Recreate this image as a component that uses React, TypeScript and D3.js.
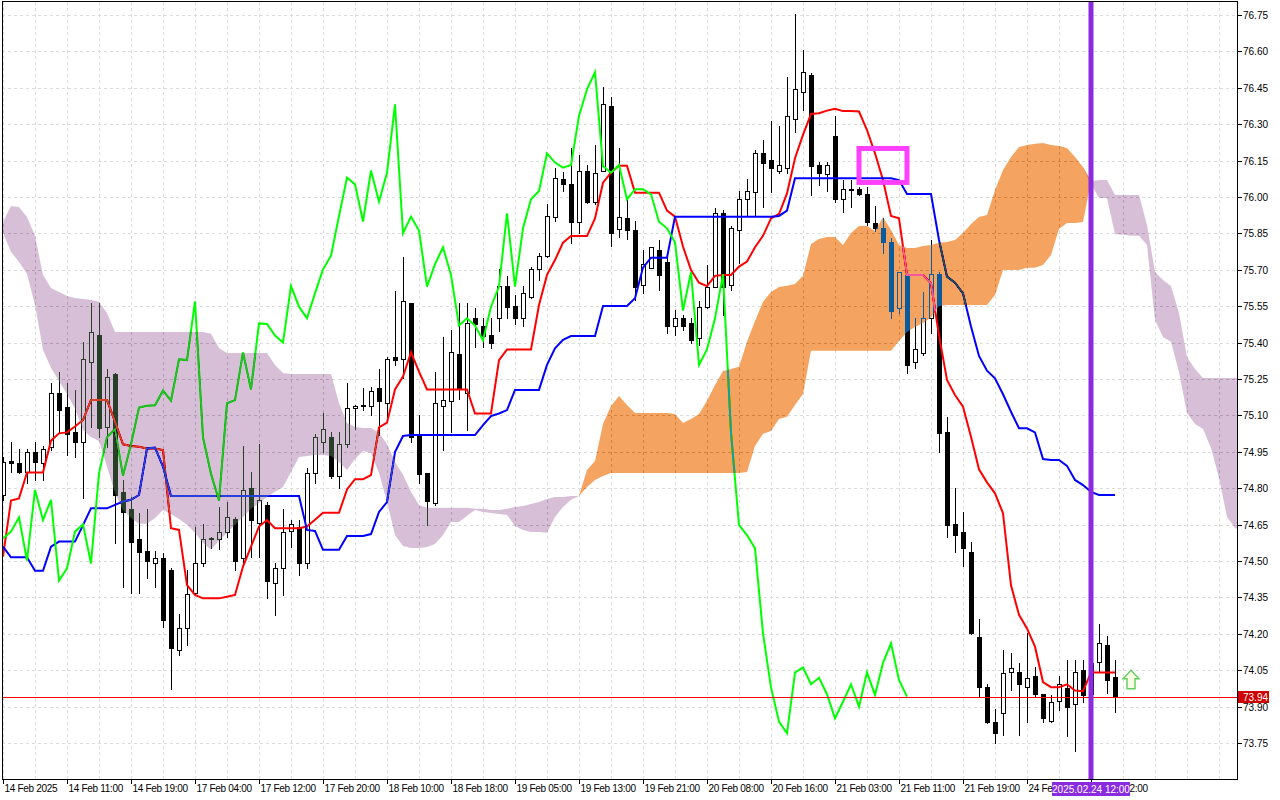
import React, { useEffect, useRef } from 'react';
import * as d3 from 'd3';

// H1 candles, 140 bars
const barOpen = [
  74.772, 74.912, 74.905, 74.868, 74.951, 74.903, 74.971, 75.191, 75.136, 75.030,
  74.992, 75.322, 75.431, 75.051, 75.269, 74.783, 74.713, 74.591, 74.541, 74.490,
  74.511, 74.463, 74.133, 74.223, 74.367, 74.490, 74.591, 74.591, 74.621, 74.673,
  74.511, 74.800, 74.658, 74.731, 74.411, 74.470, 74.625, 74.642, 74.490, 74.861,
  74.992, 75.010, 74.852, 74.981, 75.132, 75.140, 75.140, 75.212, 75.150, 75.339,
  75.331, 75.562, 75.017, 74.861, 74.740, 75.140, 75.161, 75.353, 75.191, 75.500,
  75.470, 75.431, 75.500, 75.633, 75.551, 75.500, 75.589, 75.702, 75.758, 75.918,
  76.074, 76.054, 75.899, 76.109, 75.981, 76.109, 76.375, 75.868, 75.912, 75.864,
  75.638, 75.709, 75.782, 75.731, 75.470, 75.500, 75.479, 75.420, 75.548, 75.631,
  75.933, 75.638, 75.864, 75.991, 76.022, 76.180, 76.153, 76.109, 76.121, 76.320,
  76.431, 76.503, 76.132, 76.093, 76.251, 75.990, 76.030, 76.033, 76.012, 75.894,
  75.871, 75.816, 75.541, 75.679, 75.321, 75.359, 75.500, 75.681, 75.030, 74.651,
  74.621, 74.539, 74.188, 73.979, 73.838, 73.872, 74.041, 74.041, 73.979, 74.028,
  73.951, 73.842, 73.923, 73.978, 73.910, 74.051, 73.950, 74.083, 74.154, 74.024,
];
const barHigh = [
  74.930, 74.992, 74.960, 74.960, 74.992, 74.974, 75.232, 75.280, 75.232, 75.205,
  75.404, 75.565, 75.565, 75.290, 75.275, 74.834, 74.765, 74.696, 74.713, 74.543,
  74.532, 74.470, 74.280, 74.463, 74.642, 74.653, 74.600, 74.724, 74.745, 74.683,
  74.974, 74.868, 74.982, 74.745, 74.490, 74.713, 74.669, 74.669, 74.882, 75.023,
  75.108, 75.030, 75.030, 75.232, 75.143, 75.212, 75.218, 75.290, 75.339, 75.613,
  75.751, 75.562, 75.102, 74.861, 75.280, 75.422, 75.452, 75.562, 75.562, 75.541,
  75.500, 75.500, 75.702, 75.674, 75.596, 75.633, 75.710, 75.768, 75.971, 76.120,
  76.102, 76.201, 76.173, 76.132, 76.214, 76.452, 76.411, 76.201, 75.995, 75.901,
  75.782, 75.795, 75.823, 75.747, 75.535, 75.514, 75.500, 75.570, 75.720, 75.954,
  75.947, 75.880, 76.026, 76.074, 76.194, 76.235, 76.313, 76.293, 76.493, 76.754,
  76.606, 76.510, 76.146, 76.146, 76.334, 76.070, 76.070, 76.040, 76.043, 75.963,
  75.912, 75.830, 75.690, 75.685, 75.500, 75.610, 75.823, 75.690, 75.095, 74.800,
  74.701, 74.580, 74.260, 73.993, 73.889, 74.133, 74.120, 74.078, 74.202, 74.065,
  73.951, 73.948, 74.026, 74.092, 74.092, 74.092, 74.100, 74.241, 74.191, 74.092,
];
const barLow = [
  74.750, 74.868, 74.861, 74.820, 74.834, 74.834, 74.958, 75.033, 74.937, 74.930,
  74.758, 75.054, 75.012, 74.971, 74.573, 74.394, 74.367, 74.367, 74.431, 74.392,
  74.230, 73.971, 74.113, 74.154, 74.360, 74.479, 74.552, 74.548, 74.600, 74.463,
  74.484, 74.518, 74.518, 74.346, 74.278, 74.360, 74.559, 74.442, 74.470, 74.820,
  74.951, 74.841, 74.800, 74.971, 75.043, 75.122, 75.102, 75.019, 75.081, 75.308,
  75.253, 74.992, 74.820, 74.648, 74.731, 74.957, 75.033, 75.166, 75.040, 75.383,
  75.380, 75.376, 75.449, 75.500, 75.477, 75.470, 75.582, 75.658, 75.751, 75.900,
  76.025, 75.809, 75.850, 75.974, 75.971, 76.109, 75.798, 75.834, 75.826, 75.576,
  75.603, 75.706, 75.617, 75.441, 75.432, 75.452, 75.400, 75.390, 75.541, 75.631,
  75.514, 75.617, 75.727, 75.926, 75.926, 75.960, 76.022, 76.100, 76.100, 76.269,
  76.359, 76.008, 76.049, 76.026, 75.981, 75.940, 75.960, 76.008, 75.885, 75.861,
  75.771, 75.500, 75.521, 75.273, 75.294, 75.349, 75.438, 74.951, 74.600, 74.539,
  74.479, 74.200, 73.941, 73.831, 73.749, 73.783, 73.968, 73.783, 73.838, 73.941,
  73.838, 73.838, 73.886, 73.780, 73.719, 73.921, 73.930, 74.044, 73.958, 73.879,
];
const barClose = [
  74.909, 74.903, 74.868, 74.951, 74.909, 74.960, 75.191, 75.122, 75.023, 74.992,
  75.331, 75.442, 75.050, 75.260, 74.772, 74.701, 74.580, 74.539, 74.502, 74.511,
  74.257, 74.140, 74.223, 74.364, 74.490, 74.591, 74.593, 74.621, 74.680, 74.502,
  74.793, 74.669, 74.752, 74.419, 74.470, 74.621, 74.651, 74.490, 74.861, 75.010,
  75.044, 74.852, 74.981, 75.132, 75.140, 75.142, 75.202, 75.161, 75.331, 75.328,
  75.570, 75.010, 74.859, 74.749, 75.150, 75.163, 75.360, 75.207, 75.479, 75.477,
  75.429, 75.400, 75.633, 75.548, 75.500, 75.603, 75.702, 75.758, 75.922, 76.080,
  76.052, 75.899, 76.109, 75.981, 76.100, 76.382, 75.850, 75.919, 75.862, 75.631,
  75.723, 75.793, 75.679, 75.470, 75.500, 75.470, 75.410, 75.548, 75.631, 75.933,
  75.631, 75.871, 75.991, 76.025, 76.180, 76.142, 76.121, 76.132, 76.334, 76.444,
  76.514, 76.128, 76.100, 76.132, 75.990, 76.032, 76.032, 76.011, 75.898, 75.871,
  75.813, 75.532, 75.690, 75.308, 75.372, 75.500, 75.681, 75.029, 74.648, 74.607,
  74.552, 74.202, 73.979, 73.838, 73.790, 74.040, 74.061, 73.992, 74.019, 73.951,
  73.852, 73.920, 73.992, 73.900, 74.041, 73.948, 74.080, 74.161, 74.010, 73.941,
];

// Ichimoku lines
const tenkan = [
  74.518, 74.749, 74.758, 74.865, 74.865, 74.865, 74.996, 75.026, 75.030, 75.054,
  75.081, 75.163, 75.163, 75.163, 75.074, 74.981, 74.974, 74.971, 74.964, 74.964,
  74.957, 74.635, 74.628, 74.401, 74.360, 74.346, 74.346, 74.346, 74.353, 74.360,
  74.477, 74.559, 74.642, 74.669, 74.635, 74.635, 74.635, 74.635, 74.642, 74.670,
  74.699, 74.699, 74.699, 74.795, 74.837, 74.837, 74.854, 75.051, 75.070, 75.207,
  75.260, 75.360, 75.280, 75.207, 75.207, 75.207, 75.207, 75.207, 75.207, 75.108,
  75.108, 75.108, 75.328, 75.372, 75.372, 75.372, 75.372, 75.555, 75.679, 75.740,
  75.812, 75.839, 75.839, 75.839, 75.912, 76.059, 76.100, 76.129, 76.129, 76.018,
  76.018, 76.018, 76.018, 75.944, 75.919, 75.796, 75.699, 75.647, 75.633, 75.675,
  75.679, 75.679, 75.713, 75.734, 75.793, 75.840, 75.912, 75.930, 76.015, 76.160,
  76.256, 76.342, 76.345, 76.356, 76.364, 76.354, 76.354, 76.352, 76.276, 76.180,
  76.070, 75.922, 75.912, 75.679, 75.679, 75.679, 75.644, 75.430, 75.246, 75.184,
  75.136, 75.012, 74.878, 74.824, 74.779, 74.697, 74.400, 74.278, 74.222, 74.147,
  74.001, 73.980, 73.980, 73.992, 73.966, 73.963, 74.041, 74.041, 74.041, 74.041,
];
const kijun = [
  74.559, 74.515, 74.515, 74.515, 74.460, 74.460, 74.559, 74.580, 74.580, 74.580,
  74.648, 74.717, 74.717, 74.717, 74.731, 74.745, 74.752, 74.772, 74.964, 74.967,
  74.889, 74.768, 74.768, 74.768, 74.768, 74.768, 74.768, 74.768, 74.768, 74.768,
  74.768, 74.768, 74.768, 74.768, 74.768, 74.768, 74.768, 74.768, 74.628, 74.624,
  74.546, 74.546, 74.546, 74.603, 74.603, 74.603, 74.611, 74.702, 74.743, 74.949,
  75.015, 75.019, 75.019, 75.019, 75.019, 75.019, 75.019, 75.019, 75.019, 75.019,
  75.060, 75.097, 75.108, 75.122, 75.205, 75.205, 75.205, 75.205, 75.308, 75.376,
  75.411, 75.427, 75.427, 75.427, 75.427, 75.551, 75.551, 75.551, 75.551, 75.583,
  75.709, 75.750, 75.750, 75.750, 75.919, 75.919, 75.919, 75.919, 75.919, 75.919,
  75.919, 75.919, 75.919, 75.919, 75.919, 75.919, 75.919, 75.922, 75.944, 76.077,
  76.077, 76.077, 76.077, 76.077, 76.077, 76.077, 76.077, 76.077, 76.077, 76.077,
  76.077, 76.077, 76.070, 76.012, 76.012, 76.012, 76.012, 75.823, 75.672, 75.647,
  75.603, 75.466, 75.345, 75.284, 75.253, 75.187, 75.115, 75.047, 75.047, 75.030,
  74.920, 74.916, 74.916, 74.892, 74.834, 74.813, 74.785, 74.772, 74.772, 74.772,
];
// Senkou spans as drawn (already shifted 26 bars forward), 156 bars
const senkouA = [
  75.852, 75.774, 75.732, 75.683, 75.555, 75.370, 75.296, 75.242, 75.188, 75.127,
  75.040, 75.011, 74.995, 74.888, 74.780, 74.710, 74.677, 74.653, 74.653, 74.677,
  74.710, 74.694, 74.673, 74.649, 74.616, 74.574, 74.546, 74.583, 74.616, 74.649,
  74.681, 74.715, 74.739, 74.764, 74.785, 74.805, 74.867, 74.929, 74.933, 74.937,
  74.937, 74.933, 74.908, 74.875, 74.920, 74.953, 74.945, 74.863, 74.743, 74.607,
  74.562, 74.554, 74.554, 74.558, 74.570, 74.607, 74.661, 74.661, 74.686, 74.710,
  74.702, 74.698, 74.694, 74.690, 74.644, 74.628, 74.620, 74.620, 74.616, 74.681,
  74.723, 74.752, 74.768, 74.875, 74.912, 75.065, 75.139, 75.180, 75.143, 75.110,
  75.110, 75.110, 75.110, 75.110, 75.106, 75.069, 75.085, 75.106, 75.160, 75.225,
  75.283, 75.291, 75.300, 75.403, 75.489, 75.568, 75.609, 75.629, 75.634, 75.642,
  75.675, 75.806, 75.827, 75.835, 75.835, 75.802, 75.852, 75.881, 75.881, 75.860,
  75.918, 75.864, 75.802, 75.790, 75.790, 75.798, 75.802, 75.811, 75.815, 75.823,
  75.852, 75.889, 75.918, 75.926, 76.029, 76.111, 76.165, 76.206, 76.214, 76.219,
  76.223, 76.214, 76.210, 76.202, 76.165, 76.124, 76.055, 75.996, 75.996, 75.848,
  75.844, 75.840, 75.840, 75.802, 75.493, 75.423, 75.403, 75.279, 75.110, 75.065,
  75.044, 74.966, 74.842, 74.681, 74.636, 74.624,
];
const senkouB = [
  75.897, 75.963, 75.959, 75.918, 75.840, 75.679, 75.625, 75.609, 75.592, 75.584,
  75.580, 75.576, 75.568, 75.522, 75.444, 75.444, 75.444, 75.444, 75.444, 75.444,
  75.444, 75.444, 75.444, 75.444, 75.444, 75.444, 75.436, 75.378, 75.357, 75.357,
  75.357, 75.357, 75.357, 75.357, 75.308, 75.275, 75.271, 75.271, 75.271, 75.271,
  75.271, 75.271, 75.151, 75.069, 75.052, 75.048, 75.048, 75.028, 74.982, 74.908,
  74.855, 74.785, 74.731, 74.719, 74.719, 74.719, 74.719, 74.719, 74.719, 74.715,
  74.715, 74.710, 74.710, 74.715, 74.723, 74.727, 74.735, 74.743, 74.756, 74.764,
  74.764, 74.768, 74.768, 74.805, 74.834, 74.850, 74.863, 74.863, 74.863, 74.863,
  74.863, 74.863, 74.863, 74.863, 74.863, 74.863, 74.863, 74.863, 74.863, 74.863,
  74.863, 74.863, 74.863, 74.867, 74.974, 75.024, 75.036, 75.085, 75.094, 75.143,
  75.188, 75.366, 75.366, 75.366, 75.366, 75.366, 75.366, 75.366, 75.366, 75.366,
  75.366, 75.366, 75.407, 75.444, 75.464, 75.481, 75.502, 75.551, 75.555, 75.555,
  75.555, 75.555, 75.555, 75.555, 75.596, 75.699, 75.699, 75.699, 75.708, 75.708,
  75.720, 75.761, 75.868, 75.893, 75.893, 75.897, 76.065, 76.070, 76.070, 76.008,
  76.008, 76.008, 76.008, 75.885, 75.691, 75.658, 75.633, 75.522, 75.341, 75.291,
  75.254, 75.254, 75.254, 75.254, 75.254, 75.254,
];

const timeLabels = [
  '14 Feb 2025', '14 Feb 11:00', '14 Feb 19:00', '17 Feb 04:00', '17 Feb 12:00', '17 Feb 20:00',
  '18 Feb 10:00', '18 Feb 18:00', '19 Feb 05:00', '19 Feb 13:00', '19 Feb 21:00', '20 Feb 08:00',
  '20 Feb 16:00', '21 Feb 03:00', '21 Feb 11:00', '21 Feb 19:00', '24 Feb 04:00', '24 Feb 12:00',
];
const priceTicks = [
  76.75, 76.60, 76.45, 76.30, 76.15, 76.00, 75.85, 75.70, 75.55, 75.40, 75.25,
  75.10, 74.95, 74.80, 74.65, 74.50, 74.35, 74.20, 74.05, 73.90, 73.75,
];

const bidPrice = 73.94;
const markerBar = 136;
const markerText = '2025.02.24 12:00';
const boxBars = [107, 113];
const boxPrices = [76.20, 76.06];
const arrowBar = 141;
const arrowPrice = 74.05;

const W = 1280;
const H = 800;
const plot = { left: 2, top: 2, right: 1237, bottom: 779 };
const FONT = "'Liberation Sans', Arial, sans-serif";

const App: React.FC = () => {
  const svgRef = useRef<SVGSVGElement>(null);

  useEffect(() => {
    if (!svgRef.current) return;
    const svg = d3.select(svgRef.current);
    svg.selectAll('*').remove();

    const x = d3.scaleLinear().domain([0, 154]).range([3, 1235]);
    const y = d3.scaleLinear().domain([73.75, 76.75]).range([743, 15]);

    svg.append('rect').attr('width', W).attr('height', H).attr('fill', '#ffffff');

    svg.append('defs').append('clipPath').attr('id', 'plot-clip')
      .append('rect')
      .attr('x', plot.left).attr('y', plot.top)
      .attr('width', plot.right - plot.left).attr('height', plot.bottom - plot.top);

    const g = svg.append('g').attr('clip-path', 'url(#plot-clip)');
    // white backdrop inside the clipped group so the cloud blending has something to work against
    g.append('rect')
      .attr('x', plot.left).attr('y', plot.top)
      .attr('width', plot.right - plot.left).attr('height', plot.bottom - plot.top)
      .attr('fill', '#ffffff');

    // Grid
    priceTicks.forEach(p => {
      const yy = Math.round(y(p)) + 0.5;
      g.append('line')
        .attr('x1', plot.left).attr('x2', plot.right)
        .attr('y1', yy).attr('y2', yy)
        .attr('stroke', '#dcdcdc').attr('stroke-dasharray', '3,3');
    });
    d3.range(0, 155, 4).forEach(i => {
      const xx = x(i) + 0.5;
      g.append('line')
        .attr('x1', xx).attr('x2', xx)
        .attr('y1', plot.top).attr('y2', plot.bottom)
        .attr('stroke', '#dcdcdc').attr('stroke-dasharray', '3,3');
    });

    // Candles
    const bars = d3.range(barClose.length);
    const candles = g.append('g').attr('shape-rendering', 'crispEdges');
    candles.selectAll('line.wick')
      .data(bars)
      .enter()
      .append('line')
      .attr('class', 'wick')
      .attr('x1', i => x(i) + 0.5).attr('x2', i => x(i) + 0.5)
      .attr('y1', i => Math.round(y(barHigh[i])))
      .attr('y2', i => Math.round(y(barLow[i])) + 1)
      .attr('stroke', '#000');
    candles.selectAll('rect.body')
      .data(bars)
      .enter()
      .append('rect')
      .attr('class', 'body')
      .attr('x', i => x(i) - 1.5)
      .attr('width', 4)
      .attr('y', i => Math.round(y(Math.max(barOpen[i], barClose[i]))) + 0.5)
      .attr('height', i => Math.max(1,
        Math.round(y(Math.min(barOpen[i], barClose[i]))) - Math.round(y(Math.max(barOpen[i], barClose[i])))))
      .attr('fill', i => (barClose[i] >= barOpen[i] ? '#ffffff' : '#000000'))
      .attr('stroke', '#000');

    // Ichimoku lines
    const line = d3.line<number>().x((_, i) => x(i)).y(d => y(d));
    g.append('path').datum(tenkan)
      .attr('fill', 'none').attr('stroke', '#ff0000').attr('stroke-width', 2).attr('d', line);
    g.append('path').datum(kijun)
      .attr('fill', 'none').attr('stroke', '#0000ff').attr('stroke-width', 2).attr('d', line);
    g.append('path').datum(barClose.slice(26))
      .attr('fill', 'none').attr('stroke', '#00ff00').attr('stroke-width', 2).attr('d', line);

    // Kumo, drawn as an inverted fill with difference blending (XOR look of the terminal)
    const spans = d3.range(senkouA.length);
    const bearArea = d3.area<number>()
      .x(i => x(i))
      .y0(i => y(senkouA[i]))
      .y1(i => y(Math.max(senkouA[i], senkouB[i])));
    const bullArea = d3.area<number>()
      .x(i => x(i))
      .y0(i => y(senkouB[i]))
      .y1(i => y(Math.max(senkouA[i], senkouB[i])));
    g.append('path').datum(spans)
      .attr('d', bearArea)
      .attr('fill', '#274027')
      .style('mix-blend-mode', 'difference');
    g.append('path').datum(spans)
      .attr('d', bullArea)
      .attr('fill', '#0b5b9f')
      .style('mix-blend-mode', 'difference');

    // Bid line
    const bidY = Math.round(y(bidPrice)) + 0.5;
    g.append('line')
      .attr('x1', plot.left).attr('x2', plot.right)
      .attr('y1', bidY).attr('y2', bidY)
      .attr('stroke', '#ff0000').attr('stroke-width', 1)
      .attr('shape-rendering', 'crispEdges');

    // Rectangle object
    g.append('rect')
      .attr('x', x(boxBars[0])).attr('y', y(boxPrices[0]))
      .attr('width', x(boxBars[1]) - x(boxBars[0]))
      .attr('height', y(boxPrices[1]) - y(boxPrices[0]))
      .attr('fill', 'none').attr('stroke', '#ff40ff').attr('stroke-width', 5);

    // Buy arrow
    const ax = x(arrowBar);
    const ay = y(arrowPrice);
    g.append('path')
      .attr('transform', `translate(${ax},${ay})`)
      .attr('d', 'M0,0 L8,8.5 L4,8.5 L4,18.5 L-4,18.5 L-4,8.5 L-8,8.5 Z')
      .attr('fill', '#fbfce4')
      .attr('stroke', '#5fcf5f')
      .attr('stroke-width', 1.4)
      .attr('stroke-linejoin', 'miter');

    // Vertical line
    const vx = x(markerBar);
    g.append('line')
      .attr('x1', vx).attr('x2', vx)
      .attr('y1', plot.top).attr('y2', plot.bottom)
      .attr('stroke', '#8a2be2').attr('stroke-width', 5);

    // Frame
    const frame = svg.append('g').attr('shape-rendering', 'crispEdges').attr('stroke', '#000');
    frame.append('line').attr('x1', plot.left + 0.5).attr('x2', plot.left + 0.5).attr('y1', plot.top).attr('y2', plot.bottom + 1);
    frame.append('line').attr('x1', plot.left).attr('x2', plot.right + 1).attr('y1', plot.top - 0.5).attr('y2', plot.top - 0.5);
    frame.append('line').attr('x1', plot.right + 0.5).attr('x2', plot.right + 0.5).attr('y1', plot.top).attr('y2', plot.bottom + 1);
    frame.append('line').attr('x1', plot.left).attr('x2', plot.right + 1).attr('y1', plot.bottom + 0.5).attr('y2', plot.bottom + 0.5);

    // Price axis
    const pAxis = svg.append('g').style('font-family', FONT).style('font-size', '10px');
    priceTicks.forEach(p => {
      const yy = Math.round(y(p)) + 0.5;
      pAxis.append('line')
        .attr('x1', plot.right + 1).attr('x2', plot.right + 5)
        .attr('y1', yy).attr('y2', yy)
        .attr('stroke', '#000').attr('shape-rendering', 'crispEdges');
      pAxis.append('text')
        .attr('x', plot.right + 6).attr('y', yy + 3.5)
        .attr('fill', '#000')
        .text(p.toFixed(2));
    });
    pAxis.append('rect')
      .attr('x', plot.right + 1).attr('y', bidY - 6.5)
      .attr('width', 31).attr('height', 12)
      .attr('fill', '#d00000');
    pAxis.append('text')
      .attr('x', plot.right + 6).attr('y', bidY + 3.5)
      .attr('fill', '#ffffff')
      .text(bidPrice.toFixed(2));

    // Time axis
    const tAxis = svg.append('g').style('font-family', FONT).style('font-size', '10px');
    timeLabels.forEach((label, k) => {
      const xx = x(k * 8) + 0.5;
      tAxis.append('line')
        .attr('x1', xx).attr('x2', xx)
        .attr('y1', plot.bottom + 1).attr('y2', plot.bottom + 5)
        .attr('stroke', '#000').attr('shape-rendering', 'crispEdges');
      tAxis.append('text')
        .attr('x', xx + 1).attr('y', 792)
        .attr('fill', '#000')
        .attr('letter-spacing', '-0.3')
        .text(label);
    });
    tAxis.append('rect')
      .attr('x', vx - 39).attr('y', 782)
      .attr('width', 78).attr('height', 14)
      .attr('fill', '#8a2be2');
    tAxis.append('text')
      .attr('x', vx).attr('y', 793)
      .attr('text-anchor', 'middle')
      .attr('fill', '#ffffff')
      .text(markerText);
  }, []);

  return (
    <div style={{ position: 'absolute', left: 0, top: 0, width: W, height: H, background: '#fff' }}>
      <svg ref={svgRef} width={W} height={H} style={{ display: 'block' }}></svg>
    </div>
  );
};

export default App;
